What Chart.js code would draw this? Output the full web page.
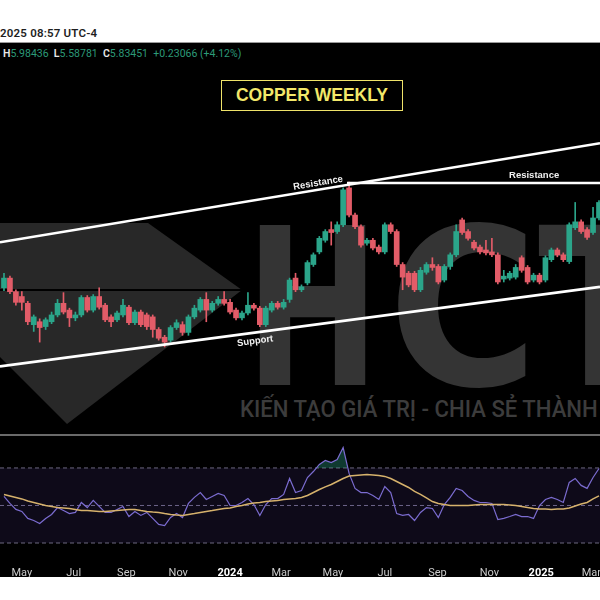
<!DOCTYPE html>
<html>
<head>
<meta charset="utf-8">
<script src="https://cdn.jsdelivr.net/npm/chart.js@4.4.1/dist/chart.umd.min.js"></script>
<style>
  html, body { margin: 0; padding: 0; background: #fff; }
  body { width: 600px; height: 600px; position: relative; overflow: hidden; font-family: Roboto, "Liberation Sans", sans-serif; }
  .abs { position: absolute; }
  #stamp { left: 0; top: 26px; font-size: 11.5px; font-weight: 600; color: #1e1e1e; letter-spacing: 0.2px; }
  #board { left: 0; top: 42px; width: 600px; height: 535px; background: #000; border-top: 1px solid #9a9a9a; box-sizing: border-box; }
  #ohlc { left: 3px; top: 47px; font-size: 10.5px; color: #e8e8e8; white-space: pre; }
  #ohlc b { font-weight: 600; }
  #ohlc span { color: #2c9a78; }
  .wm { color: #343434; font-family: "DejaVu Sans", sans-serif; font-weight: bold; font-size: 220px; line-height: 1; transform-origin: 0 0; white-space: nowrap; }
  #tagline { left: 240px; top: 398px; font-size: 23px; font-weight: 500; color: #3c3c3c; white-space: nowrap; transform-origin: 0 0; font-family: Roboto, sans-serif; line-height: 1; }
  #title { left: 221px; top: 80px; width: 182px; height: 31px; box-sizing: border-box; border: 1.5px solid #efe36a; color: #f3e86a;
           font: bold 17.5px "Liberation Sans", Arial, sans-serif; text-align: center; line-height: 28px; background: #000; }
  #divider { left: 0; top: 434px; width: 600px; height: 2px; background: #6a6a6a; }
  #price { left: 0; top: 60px; }
  #rsi { left: 0; top: 437px; }
</style>
</head>
<body>
<div id="stamp" class="abs">2025 08:57 UTC-4</div>
<div id="board" class="abs"></div>
<svg class="abs" width="600" height="600" style="left:0;top:0">
  <polygon points="0,223 148,223 242,290 67,424 0,357" fill="#282828"/>
  <line x1="0" y1="290" x2="242" y2="290" stroke="#000" stroke-width="2"/>
</svg>
<div class="abs wm" id="wmH" style="left:245px;top:199px">H</div>
<div class="abs wm" id="wmC" style="left:388px;top:199px">C</div>
<div class="abs wm" id="wmT" style="left:538px;top:199px">T</div>
<div id="tagline" class="abs">KIẾN TẠO GIÁ TRỊ - CHIA SẺ THÀNH</div>
<div id="ohlc" class="abs"><b>H</b><span>5.98436</span>  <b>L</b><span>5.58781</span>  <b>C</b><span>5.83451</span>  <span>+0.23066 (+4.12%)</span></div>
<div id="title" class="abs">COPPER WEEKLY</div>
<div id="divider" class="abs"></div>
<canvas id="price" class="abs" width="600" height="372"></canvas>
<canvas id="rsi" class="abs" width="600" height="140"></canvas>
<script>
// weekly candles, first bar = week of 2023-04-10
const startDate = Date.UTC(2023, 3, 10);
const opens  = [4.14,4.24,4.10,4.05,3.98,3.76,3.79,3.74,3.79,3.86,3.98,3.91,3.83,3.86,4.04,3.91,4.05,3.96,3.84,3.81,
                3.86,3.94,3.78,3.89,3.86,3.84,3.71,3.63,3.60,3.73,3.76,3.68,3.84,3.91,4.02,3.91,3.98,4.02,3.99,3.91,
                3.83,3.88,3.96,3.93,3.76,3.91,3.98,3.94,4.02,4.24,4.12,4.19,4.38,4.51,4.63,4.74,4.72,4.79,5.17,4.89,
                4.77,4.60,4.63,4.56,4.51,4.79,4.72,4.38,4.29,4.29,4.12,4.30,4.38,4.36,4.22,4.36,4.48,4.84,4.72,4.61,
                4.56,4.53,4.51,4.48,4.23,4.24,4.25,4.45,4.35,4.22,4.27,4.22,4.43,4.53,4.48,4.41,4.76,4.82,4.74,4.71,4.86];
const highs  = [4.29,4.26,4.12,4.10,4.00,3.86,3.82,3.83,3.89,4.02,4.09,3.93,3.89,4.06,4.06,4.07,4.14,3.98,3.86,3.90,
                4.02,3.96,3.91,3.91,3.88,3.86,3.73,3.65,3.75,3.81,3.79,3.86,3.96,4.04,4.09,4.00,4.05,4.10,4.02,3.93,
                3.90,4.09,3.98,3.95,3.95,4.00,4.00,4.02,4.24,4.29,4.17,4.42,4.50,4.67,4.74,4.82,4.82,5.17,5.23,4.91,
                4.79,4.65,4.65,4.58,4.81,4.81,4.74,4.40,4.31,4.31,4.35,4.40,4.45,4.38,4.38,4.50,4.79,4.86,4.74,4.63,
                4.58,4.63,4.65,4.50,4.32,4.31,4.38,4.47,4.37,4.29,4.29,4.47,4.55,4.55,4.50,4.81,5.02,4.84,4.76,4.97,5.04];
const lows   = [4.11,4.08,3.96,3.91,3.76,3.69,3.58,3.71,3.77,3.84,3.87,3.74,3.80,3.84,3.89,3.89,3.92,3.79,3.74,3.79,
                3.84,3.76,3.76,3.74,3.71,3.63,3.60,3.53,3.58,3.71,3.65,3.65,3.82,3.89,3.79,3.89,3.96,3.96,3.87,3.81,
                3.81,3.86,3.91,3.74,3.74,3.89,3.92,3.92,3.99,4.10,4.10,4.17,4.36,4.49,4.61,4.58,4.70,4.77,4.87,4.75,
                4.56,4.58,4.53,4.49,4.49,4.70,4.36,4.12,4.15,4.10,4.10,4.28,4.32,4.18,4.20,4.33,4.46,4.69,4.63,4.53,
                4.49,4.48,4.46,4.18,4.20,4.22,4.23,4.30,4.18,4.20,4.18,4.20,4.41,4.46,4.41,4.39,4.74,4.70,4.64,4.69,4.84];
const closes = [4.24,4.10,3.99,3.99,3.79,3.84,3.73,3.81,3.86,3.98,3.89,3.83,3.86,4.04,3.91,4.05,3.94,3.81,3.79,3.88,
                3.96,3.78,3.89,3.76,3.74,3.71,3.62,3.58,3.73,3.78,3.68,3.84,3.93,4.02,3.91,3.98,4.02,3.98,3.89,3.83,
                3.88,3.96,3.93,3.76,3.93,3.98,3.94,3.99,4.22,4.12,4.15,4.40,4.48,4.65,4.72,4.71,4.79,5.15,4.89,4.77,
                4.58,4.63,4.55,4.51,4.79,4.72,4.38,4.25,4.17,4.12,4.32,4.38,4.35,4.20,4.36,4.48,4.72,4.71,4.65,4.55,
                4.51,4.50,4.48,4.20,4.26,4.29,4.35,4.32,4.20,4.27,4.20,4.45,4.53,4.48,4.43,4.79,4.82,4.72,4.66,4.86,5.02];

// RSI(14) and its moving average, one value per week
const rsiValues = [54.8,51.1,47.9,46.8,43.1,42.0,40.4,43.1,45.2,48.9,47.3,45.7,46.3,51.6,48.9,52.7,49.5,46.3,46.3,47.9,
                   49.5,44.1,46.8,44.7,46.3,43.1,39.9,39.3,43.6,45.7,43.6,51.1,54.3,56.9,53.2,54.8,56.4,55.3,50.0,50.0,
                   51.6,53.7,50.5,44.7,50.5,53.7,53.7,55.9,64.4,56.9,58.0,64.9,68.1,71.9,74.0,72.9,74.5,80.9,67.1,59.1,
                   56.9,56.9,55.3,53.2,60.1,56.9,45.7,44.7,45.2,42.0,46.3,48.9,48.4,43.6,50.5,54.3,59.1,58.0,54.8,52.7,
                   51.6,51.6,51.1,42.5,43.1,44.1,45.2,44.1,44.1,43.1,50.0,53.2,54.3,53.2,51.6,62.3,64.4,60.7,59.1,64.9,69.7];
const rsiMa = [55.9,55.1,54.3,53.5,52.4,51.6,50.8,50.0,49.5,48.9,48.7,48.4,47.9,47.3,47.3,47.1,46.8,46.8,47.1,47.3,
               47.6,47.9,47.9,47.3,46.8,46.5,46.3,45.7,45.2,44.9,44.7,45.2,45.7,46.3,46.8,47.3,47.9,48.4,48.7,49.5,
               50.0,50.8,51.3,51.6,52.1,52.4,52.7,53.2,53.5,53.7,54.3,55.3,56.9,58.5,59.9,61.2,62.8,64.4,65.7,66.0,
               66.3,66.5,66.3,66.0,65.5,64.4,62.8,61.2,59.6,57.5,55.9,54.0,52.1,51.1,50.5,50.0,50.0,50.0,50.0,50.3,
               50.5,50.5,50.5,50.5,50.5,50.3,50.0,49.5,48.9,48.4,48.1,48.1,47.9,48.1,48.1,48.7,49.7,50.8,51.6,53.5,55.1];
const rsiLevels = [70, 50, 30];

const tickDates  = ['2023-05-01','2023-07-01','2023-09-01','2023-11-01','2024-01-01','2024-03-01',
                    '2024-05-01','2024-07-01','2024-09-01','2024-11-01','2025-01-01','2025-03-01'];
const tickLabels = ['May','Jul','Sep','Nov','2024','Mar','May','Jul','Sep','Nov','2025','Mar'];

// trend lines (week index, price)
const xMin = -0.67, xMax = 100.17;
const upperResistance = [{x: xMin, y: 4.61}, {x: xMax, y: 5.63}];
const flatResistance  = [{x: 57.65, y: 5.22}, {x: xMax, y: 5.22}];
const supportLine     = [{x: xMin, y: 3.33}, {x: xMax, y: 4.15}];

const weeks = opens.map((_, i) => i);
const tickWeeks = tickDates.map(d => (Date.parse(d) - startDate) / (7 * 864e5));
const candleColors = weeks.map(i => closes[i] >= opens[i] ? '#2ba58a' : '#e25c68');

const trendLabels = [
    {text: 'Resistance', x: 52.8, y: 5.22, angle: -9.4},
    {text: 'Resistance', x: 89.1, y: 5.30, angle: 0},
    {text: 'Support', x: 42.2, y: 3.59, angle: -7.6}
];

const labelPlugin = {
    id: 'trendLabels',
    afterDatasetsDraw(chart) {
        const {ctx, scales: {x, y}} = chart;
        ctx.save();
        ctx.font = 'bold 9.5px "Liberation Sans", Arial, sans-serif';
        ctx.fillStyle = '#f0f0f0';
        ctx.textAlign = 'center';
        ctx.textBaseline = 'middle';
        for (const l of trendLabels) {
            ctx.save();
            ctx.translate(x.getPixelForValue(l.x), y.getPixelForValue(l.y));
            ctx.rotate(l.angle * Math.PI / 180);
            ctx.fillText(l.text, 0, 0);
            ctx.restore();
        }
        ctx.restore();
    }
};

const trendStyle = {type: 'line', borderColor: '#ffffff', borderWidth: 2.6, pointRadius: 0, order: 0};

new Chart(document.getElementById('price'), {
    type: 'bar',
    data: {
        datasets: [
            {...trendStyle, data: upperResistance},
            {...trendStyle, data: flatResistance},
            {...trendStyle, data: supportLine},
            {
                data: weeks.map(i => ({x: i, y: [opens[i], closes[i]]})),
                backgroundColor: candleColors,
                barThickness: 5,
                grouped: false,
                order: 1
            },
            {
                data: weeks.map(i => ({x: i, y: [lows[i], highs[i]]})),
                backgroundColor: candleColors,
                barThickness: 1,
                grouped: false,
                order: 2
            }
        ]
    },
    options: {
        responsive: false,
        animation: false,
        layout: {padding: 0},
        plugins: {legend: {display: false}, tooltip: {enabled: false}},
        scales: {
            x: {type: 'linear', min: xMin, max: xMax, offset: false, display: false},
            y: {min: 2.653, max: 6.489, display: false}
        }
    },
    plugins: [labelPlugin]
});

const isYear = (i) => /^\d/.test(tickLabels[i] || '');
const levelLine = (v) => [{x: xMin, y: v}, {x: xMax, y: v}];
const levelStyle = {borderColor: '#6c6880', borderWidth: 1, borderDash: [4, 3], pointRadius: 0, order: 3};

new Chart(document.getElementById('rsi'), {
    type: 'line',
    data: {
        datasets: [
            {...levelStyle, data: levelLine(rsiLevels[0])},
            {...levelStyle, data: levelLine(rsiLevels[2]), fill: '-1', backgroundColor: 'rgba(110,80,190,0.13)'},
            {...levelStyle, data: levelLine(rsiLevels[1])},
            {
                data: weeks.map(i => ({x: i, y: rsiValues[i]})),
                borderColor: '#7b6cd0',
                borderWidth: 1.2,
                pointRadius: 0,
                fill: {target: {value: 70}, above: 'rgba(43,165,138,0.35)', below: 'rgba(0,0,0,0)'},
                order: 1
            },
            {
                data: weeks.map(i => ({x: i, y: rsiMa[i]})),
                borderColor: '#d6b26c',
                borderWidth: 1.5,
                pointRadius: 0,
                order: 0
            }
        ]
    },
    options: {
        responsive: false,
        animation: false,
        layout: {padding: 0},
        plugins: {legend: {display: false}, tooltip: {enabled: false}},
        scales: {
            x: {
                type: 'linear', min: xMin, max: xMax, offset: false,
                grid: {display: false},
                border: {display: false},
                afterBuildTicks: (s) => { s.ticks = tickWeeks.map(v => ({value: v})); },
                afterFit: (s) => { s.height = 24; s.paddingLeft = 0; s.paddingRight = 0; },
                ticks: {
                    autoSkip: false,
                    maxRotation: 0,
                    padding: 6,
                    color: (c) => isYear(c.index) ? '#ffffff' : '#c9c9c9',
                    font: (c) => ({family: 'Roboto', size: 11, weight: isYear(c.index) ? 'bold' : 'normal'}),
                    callback: (v, i) => tickLabels[i]
                }
            },
            y: {min: 24.67, max: 86.5, display: false}
        }
    }
});

// squeeze the watermark letters to their width in the picture
const fit = (id, w) => {
    const el = document.getElementById(id);
    el.style.transform = 'scaleX(' + (w / el.offsetWidth) + ')';
};
fit('tagline', 358);
fit('wmH', 135);
fit('wmC', 150);
fit('wmT', 130);
</script>
</body>
</html>
